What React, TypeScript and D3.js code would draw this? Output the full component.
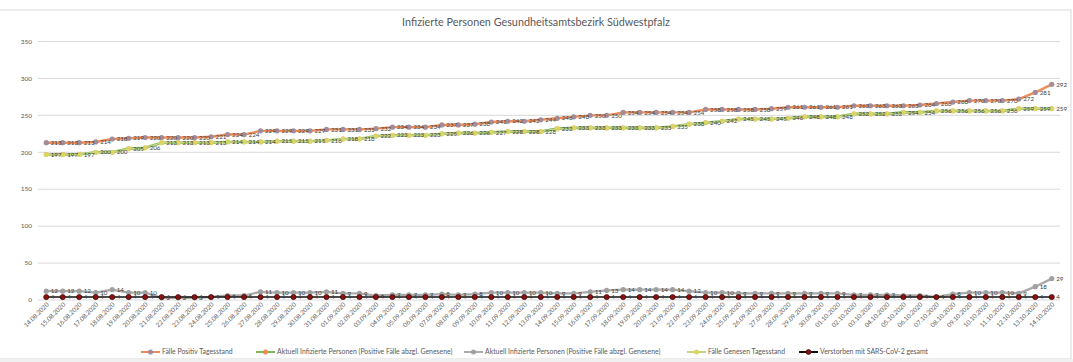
import React from "react";
import * as d3 from "d3";

// Datumsachse (Kategorien)
const dates = [
  "14.08.2020", "15.08.2020", "16.08.2020", "17.08.2020", "18.08.2020", "19.08.2020",
  "20.08.2020", "21.08.2020", "22.08.2020", "23.08.2020", "24.08.2020", "25.08.2020",
  "26.08.2020", "27.08.2020", "28.08.2020", "29.08.2020", "30.08.2020", "31.08.2020",
  "01.09.2020", "02.09.2020", "03.09.2020", "04.09.2020", "05.09.2020", "06.09.2020",
  "07.09.2020", "08.09.2020", "09.09.2020", "10.09.2020", "11.09.2020", "12.09.2020",
  "13.09.2020", "14.09.2020", "15.09.2020", "16.09.2020", "17.09.2020", "18.09.2020",
  "19.09.2020", "20.09.2020", "21.09.2020", "22.09.2020", "23.09.2020", "24.09.2020",
  "25.09.2020", "26.09.2020", "27.09.2020", "28.09.2020", "29.09.2020", "30.09.2020",
  "01.10.2020", "02.10.2020", "03.10.2020", "04.10.2020", "05.10.2020", "06.10.2020",
  "07.10.2020", "08.10.2020", "09.10.2020", "10.10.2020", "11.10.2020", "12.10.2020",
  "13.10.2020", "14.10.2020",
];

const positivTagesstand = [
  213, 213, 213, 214, 218, 219, 220, 220, 220, 220,
  221, 224, 224, 229, 229, 229, 229, 231, 231, 231,
  232, 234, 234, 234, 237, 237, 238, 241, 242, 242,
  244, 246, 248, 250, 250, 254, 254, 254, 254, 254,
  258, 258, 258, 258, 259, 261, 261, 261, 261, 263,
  263, 263, 263, 264, 266, 268, 270, 270, 270, 272,
  281, 292,
];

// grüne Reihe liegt im Original deckungsgleich unter "Genesen"
const aktuellGruen = [
  197, 197, 197, 200, 200, 205, 206, 213, 213, 213,
  213, 214, 214, 214, 215, 215, 215, 216, 218, 218,
  222, 223, 223, 223, 225, 226, 226, 227, 228, 228,
  228, 232, 233, 233, 233, 233, 233, 233, 235, 238,
  240, 242, 245, 245, 245, 246, 248, 248, 248, 252,
  252, 252, 254, 254, 256, 256, 256, 256, 256, 259,
  259, 259,
];

const aktuellInfizierte = [
  12, 12, 12, 10, 14, 10, 10, 3, 3, 3,
  4, 6, 6, 11, 10, 10, 10, 11, 9, 9,
  6, 7, 7, 7, 8, 7, 8, 10, 10, 10,
  10, 9, 9, 11, 13, 14, 14, 14, 14, 12,
  10, 10, 9, 9, 9, 9, 9, 9, 9, 7,
  7, 7, 6, 6, 4, 8, 10, 10, 10, 9,
  18, 29,
];

const genesenTagesstand = [
  197, 197, 197, 200, 200, 205, 206, 213, 213, 213,
  213, 214, 214, 214, 215, 215, 215, 216, 218, 218,
  222, 223, 223, 223, 225, 226, 226, 227, 228, 228,
  228, 232, 233, 233, 233, 233, 233, 233, 235, 238,
  240, 242, 245, 245, 245, 246, 248, 248, 248, 252,
  252, 252, 254, 254, 256, 256, 256, 256, 256, 259,
  259, 259,
];

const verstorben = [
  4, 4, 4, 4, 4, 4, 4, 4, 4, 4,
  4, 4, 4, 4, 4, 4, 4, 4, 4, 4,
  4, 4, 4, 4, 4, 4, 4, 4, 4, 4,
  4, 4, 4, 4, 4, 4, 4, 4, 4, 4,
  4, 4, 4, 4, 4, 4, 4, 4, 4, 4,
  4, 4, 4, 4, 4, 4, 4, 4, 4, 4,
  4, 4,
];

const yTicks = [0, 50, 100, 150, 200, 250, 300, 350];

const title = "Infizierte Personen Gesundheitsamtsbezirk Südwestpfalz";

const series = [
  { name: "Fälle Positiv Tagesstand", values: positivTagesstand, line: "#ec8b57", width: 2.4, marker: "#a38c98", markerStroke: "none", r: 2.6, labels: true },
  { name: "Aktuell Infizierte Personen (Positive Fälle abzgl. Genesene)", values: aktuellGruen, line: "#7fb75a", width: 2.6, marker: "#ee8a52", markerStroke: "none", r: 2.4, labels: false },
  { name: "Aktuell Infizierte Personen (Positive Fälle abzgl. Genesene)", values: aktuellInfizierte, line: "#aaaaaa", width: 2.4, marker: "#a0a0a0", markerStroke: "none", r: 2.6, labels: true },
  { name: "Fälle Genesen Tagesstand", values: genesenTagesstand, line: "#c9d77c", width: 1.4, marker: "#ddd468", markerStroke: "none", r: 2.6, labels: true },
  { name: "Verstorben mit SARS-CoV-2 gesamt", values: verstorben, line: "#111111", width: 1.6, marker: "#8b1111", markerStroke: "#2a0000", r: 2.6, labels: true },
];

const W = 1073;
const H = 362;
const FONT = "Lato, 'Open Sans', sans-serif";

const legendX = [141, 256, 464, 687, 799];

export default function App() {
  const x = d3.scalePoint<string>().domain(dates).range([38, 1060]).padding(0.5);
  const y = d3.scaleLinear().domain([0, 350]).range([300, 41.5]);

  const line = d3
    .line<number>()
    .x((_, i) => x(dates[i]) as number)
    .y((d) => y(d));

  return (
    <svg
      width={W}
      height={H}
      style={{ position: "absolute", left: 0, top: 0, background: "#fff" }}
      fontFamily={FONT}
    >
      {/* Diagrammrahmen */}
      <rect x={-1} y={10} width={1072} height={349} fill="#fff" stroke="#d9d9d9" strokeWidth={1} />
      <rect x={0} y={359} width={W} height={3} fill="#f0f0f0" />

      <text x={536} y={26} textAnchor="middle" fontSize={10.8} fill="#595959">
        {title}
      </text>

      {/* Raster und y-Achse */}
      {yTicks.map((t) => (
        <g key={t}>
          <line x1={38} x2={1060} y1={y(t)} y2={y(t)} stroke="#d9d9d9" strokeWidth={1} />
          <text x={32} y={y(t)} dy="0.35em" textAnchor="end" fontSize={6.5} fill="#595959">
            {t}
          </text>
        </g>
      ))}

      {/* x-Achse */}
      {dates.map((d) => (
        <text
          key={d}
          transform={`translate(${(x(d) as number) + 3},${305}) rotate(-45)`}
          textAnchor="end"
          fontSize={6.3}
          fill="#595959"
        >
          {d}
        </text>
      ))}

      {/* Linien */}
      {series.map((s, si) => (
        <g key={si}>
          <path d={line(s.values) || ""} fill="none" stroke={s.line} strokeWidth={s.width} strokeLinejoin="round" />
          {s.values.map((v, i) => (
            <circle
              key={i}
              cx={x(dates[i]) as number}
              cy={y(v)}
              r={s.r}
              fill={s.marker}
              stroke={s.markerStroke}
              strokeWidth={0.6}
            />
          ))}
        </g>
      ))}

      {/* Datenbeschriftungen */}
      {series.map((s, si) =>
        s.labels ? (
          <g key={si} fontSize={6.2} fill="#404040">
            {s.values.map((v, i) => (
              <text key={i} x={(x(dates[i]) as number) + 4.5} y={y(v)} dy="0.35em">
                {v}
              </text>
            ))}
          </g>
        ) : null
      )}

      {/* Legende */}
      {series.map((s, si) => (
        <g key={si} transform={`translate(${legendX[si]},352)`}>
          <line x1={0} x2={19} y1={0} y2={0} stroke={s.line} strokeWidth={2} />
          <circle cx={9.5} cy={0} r={2.5} fill={s.marker} stroke={s.markerStroke} strokeWidth={0.6} />
          <text x={21} y={0} dy="0.35em" fontSize={6.9} fill="#595959">
            {s.name}
          </text>
        </g>
      ))}
    </svg>
  );
}
